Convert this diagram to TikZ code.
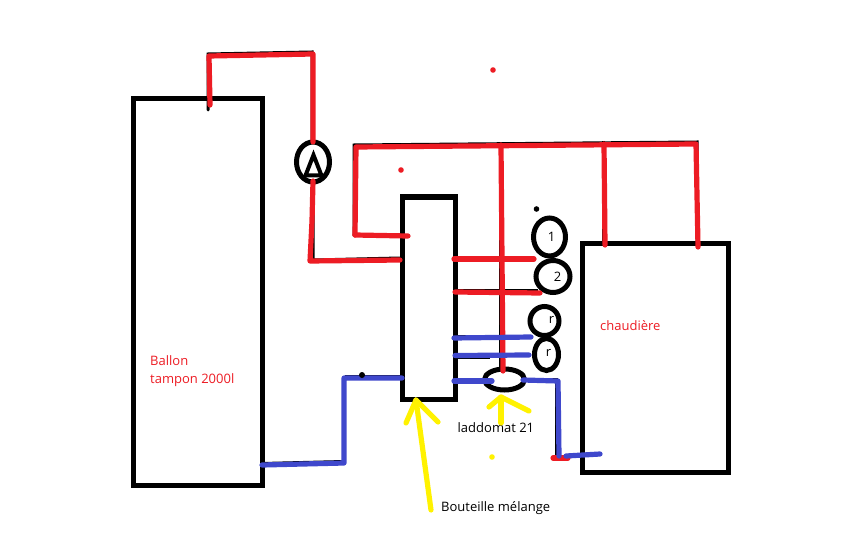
\documentclass[tikz,border=0pt]{standalone}
\usepackage{fontspec}
\setmainfont{Open Sans}
\definecolor{pred}{HTML}{ED1C24}
\definecolor{pblue}{HTML}{3F48CC}
\definecolor{pyel}{HTML}{FFF200}
\tikzset{
  box/.style={draw=black,line width=5pt,inner sep=0pt,outer sep=0pt,anchor=north west},
  ring/.style={draw=black,line width=5pt,ellipse,inner sep=0pt,outer sep=0pt},
  under/.style={draw=black,line width=3pt},
  redpipe/.style={draw=pred,line width=5.2pt,line cap=round,line join=round},
  bluepipe/.style={draw=pblue,line width=5.2pt,line cap=round,line join=round},
  yelarrow/.style={draw=pyel,line width=5.2pt,line cap=round,line join=round},
  lab/.style={font=\fontsize{13pt}{15pt}\selectfont,inner sep=0pt},
}
\usetikzlibrary{shapes.geometric}
\begin{document}
\begin{tikzpicture}[x=1pt,y=-1pt]
\useasboundingbox (0,0) rectangle (864,540);
\fill[white] (0,0) rectangle (864,540);
% tanks
\node[box,minimum width=129pt,minimum height=386pt] (ballon) at (133,99) {};
\node[box,minimum width=53pt,minimum height=202pt] (bottle) at (402,197) {};
\node[box,minimum width=146pt,minimum height=229pt] (boiler) at (582,243) {};
% rings
\node[ring,minimum width=33pt,minimum height=40pt] (pump) at (313,162) {};
\draw[black,line width=4pt,line join=miter] (313.5,155) -- (305.5,175.5) -- (321.5,175.5) -- cycle;
\node[ring,minimum width=32pt,minimum height=38pt] (c1) at (549.5,237) {};
\node[ring,minimum width=34pt,minimum height=32pt] (c2) at (553,276.5) {};
\node[ring,minimum width=29pt,minimum height=29pt] (c3) at (544.5,321) {};
\node[ring,minimum width=24pt,minimum height=32pt] (c4) at (546.5,354.5) {};
\node[ring,minimum width=40pt,minimum height=21pt] (lad) at (504.5,379.5) {};
% black traces under the coloured strokes
\draw[under,line cap=round] (208,110) -- (208,54) -- (312,52) -- (312,140);
\draw[under] (313,180) -- (313,260) -- (400,258);
\draw[under] (354,236) -- (354,145) -- (697,142) -- (697,245);
\draw[under] (603,141) -- (603,245);
\draw[under] (500,143) -- (500,368);
\draw[under] (455,257.5) -- (533,257.5);
\draw[under] (455,290.5) -- (538,290.5);
\draw[under] (455,336.5) -- (490,336.5);
\draw[under] (455,357) -- (490,357);
\draw[under] (402,376.5) -- (345,376.5);
\draw[under] (455,379.5) -- (490,379.5);
\draw[under] (522,379) -- (556,379) -- (556,458);
\draw[under] (262,463.5) -- (344,461.5);
% labels
\node[lab,text=pred,anchor=base west] (t1) at (150,365) {Ballon};
\node[lab,text=pred,anchor=base west] (t2) at (150,383) {tampon 2000l};
\node[lab,text=pred,anchor=base west] (t3) at (600,330) {chaudière};
\node[lab,anchor=base,text=black] (n1) at (551.5,241) {1};
\node[lab,anchor=base,text=black] (n2) at (557.5,281) {2};
\node[lab,anchor=base,text=black] (n3) at (551.5,323) {r};
\node[lab,anchor=base,text=black] (n4) at (548.5,356) {r};
\node[lab,anchor=base west,text=black] (t4) at (457.5,432) {laddomat 21};
\node[lab,anchor=base west,text=black] (t5) at (441,511) {Bouteille mélange};
% red pipes
\coordinate (rA) at (210,105);
\coordinate (rB) at (209,56);
\coordinate (rC) at (313,54);
\path[redpipe] (rA) -- (rB) -- (rC) -- (pump.north);
\path[redpipe] (pump.south) ++(0,-1) -- (312,221) -- (310,261) -- (400,260);
\path[redpipe] (355,235) -- (356,147) -- (696,144) -- (698,247);
\path[redpipe] (355,235) -- (408,236);
\path[redpipe] (604,144) -- (605,245);
\path[redpipe] (501,145) -- (503,371);
\path[redpipe] (454,259) -- (534,259);
\path[redpipe] (455,292) -- (540,293);
\path[redpipe] (553,458) -- (568,458);
% blue pipes
\path[bluepipe] (262,465) -- (344,463) -- (344,378) -- (402,378);
\path[bluepipe] (454,338) -- (531,337);
\path[bluepipe] (455,355.5) -- (529,355);
\path[bluepipe] (454,381) -- (492,381);
\path[bluepipe] (523,380) -- (558,381) -- (559,456);
\path[bluepipe] (566,456) -- (600,454);
% yellow arrows
\path[yelarrow] (431,510) -- (416,400);
\path[yelarrow] (406,423) -- (416,400) -- (438,422);
\path[yelarrow] (501,423) -- (501,397);
\path[yelarrow] (489,407) -- (501,397) -- (529,411);
% specks
\fill[pred] (493,70) circle (2.8pt);
\fill[pred] (401,170) circle (2.8pt);
\fill[black] (536.5,209) circle (2.8pt);
\fill[black] (362,375) circle (3pt);
\fill[pyel] (492,457) circle (2.8pt);
\end{tikzpicture}
\end{document}
